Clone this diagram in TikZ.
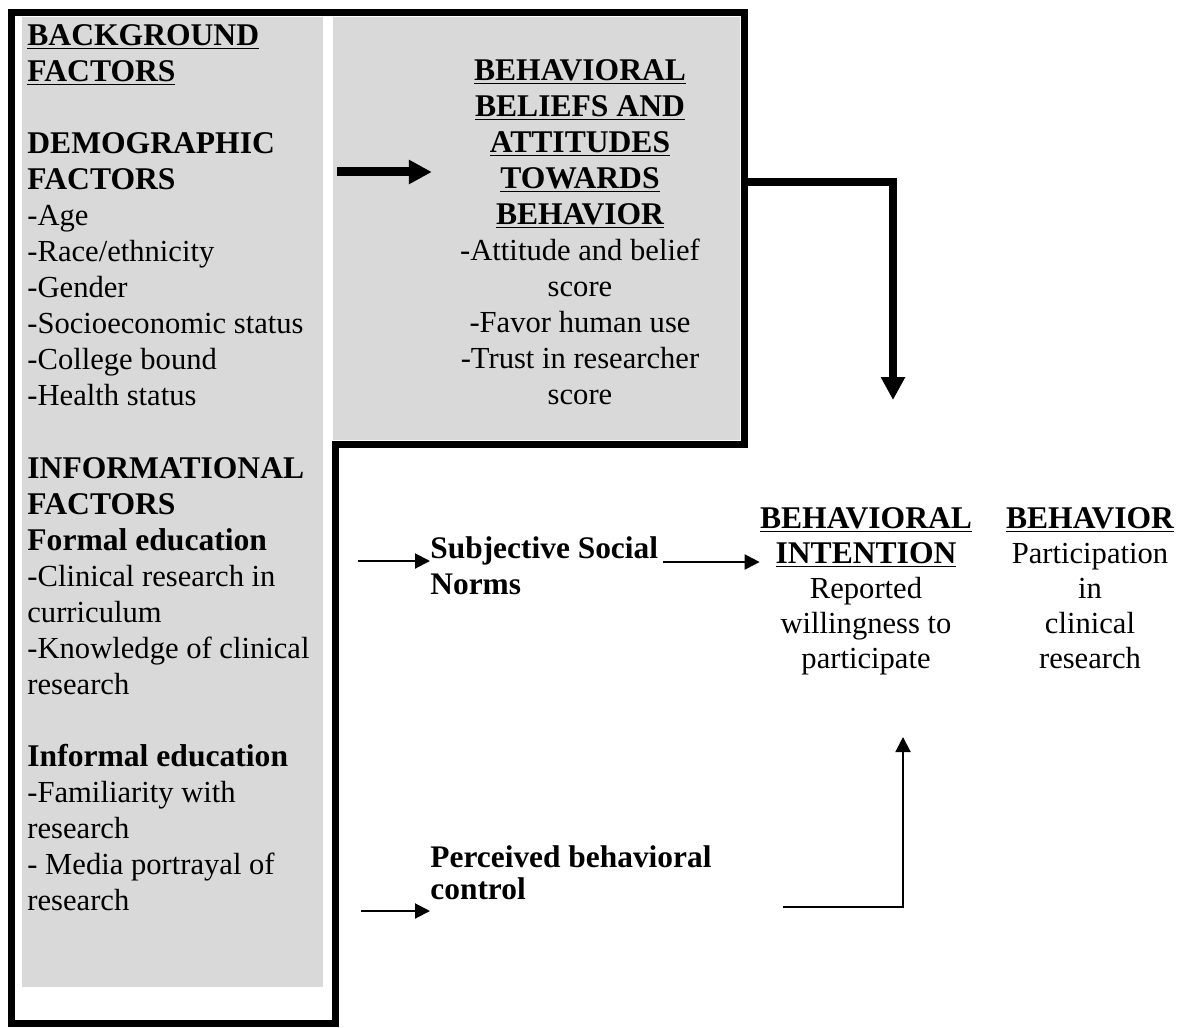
\documentclass[tikz,border=0pt]{standalone}
\usepackage{fontspec}
\setmainfont{Liberation Serif}
\usetikzlibrary{arrows.meta}
\definecolor{panelgray}{RGB}{217,217,217}
\newcommand{\hd}[1]{{\fontsize{15.8}{18}\selectfont\bfseries #1}}
\newcommand{\uhd}[1]{\underline{\hd{#1}}}

\begin{document}
\begin{tikzpicture}[x=0.5pt,y=-0.5pt,
  txt/.style={inner sep=0pt,font=\fontsize{15.3}{18}\selectfont,execute at begin node=\strut},
  thinarr/.style={line width=1pt,-{Triangle[length=7.5pt,width=7.5pt]}},
  fatarr/.style={line width=4.5pt,-{Triangle[length=11.5pt,width=11.5pt]}}]
  \useasboundingbox (0,0) rectangle (1181,1027);
  % gray panels
  \fill[panelgray] (22,17) rectangle (323,987);
  \fill[panelgray] (333,17) rectangle (740,440);
  % thick frame round both panels
  \draw[line width=3.5pt] (11,13) -- (744,13) -- (744,444) -- (335,444) -- (335,1023.5) -- (11,1023.5) -- cycle;
  % background factors
  \node[txt,anchor=north west,align=left] (demo) at (27,24) {\uhd{BACKGROUND}\\ \uhd{FACTORS}\\[18pt]
    \hd{DEMOGRAPHIC}\\ \hd{FACTORS}\\ -Age\\ -Race/ethnicity\\ -Gender\\ -Socioeconomic status\\
    -College bound\\ -Health status};
  \node[txt,anchor=north west,align=left] (info) at (27,457) {\hd{INFORMATIONAL}\\ \hd{FACTORS}\\
    \hd{Formal education}\\ -Clinical research in\\ curriculum\\ -Knowledge of clinical\\ research\\[18pt]
    \hd{Informal education}\\ -Familiarity with\\ research\\ - Media portrayal of\\ research};
  % attitudes
  \node[txt,anchor=north,align=center] (att) at (580,59) {\uhd{BEHAVIORAL}\\
    \uhd{BELIEFS AND}\\ \uhd{ATTITUDES}\\ \uhd{TOWARDS}\\ \uhd{BEHAVIOR}\\ -Attitude and belief\\ score\\
    -Favor human use\\ -Trust in researcher\\ score};
  % norms and control
  \node[txt,anchor=north west,align=left,font=\fontsize{15.7}{18}\selectfont\bfseries] (sub) at (430,536) {Subjective Social\\ Norms};
  \node[txt,anchor=north west,align=left,font=\fontsize{15.7}{16}\selectfont\bfseries] (pbc) at (430,845) {Perceived behavioral\\ control};
  % intention and behavior
  \node[txt,anchor=north,align=center,font=\fontsize{15.3}{17.5}\selectfont] (int) at (866,507) {\uhd{BEHAVIORAL}\\
    \uhd{INTENTION}\\ Reported\\ willingness to\\ participate};
  \node[txt,anchor=north,align=center,font=\fontsize{15.3}{17.5}\selectfont] (beh) at (1090,507) {\uhd{BEHAVIOR}\\
    Participation\\ in\\ clinical\\ research};
  % connectors
  \coordinate (demoout) at (337,172);
  \draw[fatarr] (demoout) -- ([xshift=-14pt]att.west |- demoout);
  \coordinate (attout) at (744,182);
  \coordinate (attin) at (893,400);
  \draw[fatarr,line width=4pt] (attout) -| (attin);
  \coordinate (subin) at (358,561);
  \draw[thinarr] (subin) -- (sub.west |- subin);
  \coordinate (subout) at (0,562);
  \draw[thinarr] ([xshift=2.5pt]sub.east |- subout) -- (int.west |- subout);
  \coordinate (pbcin) at (361,911);
  \draw[thinarr] (pbcin) -- (pbc.west |- pbcin);
  \coordinate (pbcout) at (783,907);
  \coordinate (intin) at (903,737);
  \draw[thinarr] (pbcout) -| (intin);
\end{tikzpicture}
\end{document}
